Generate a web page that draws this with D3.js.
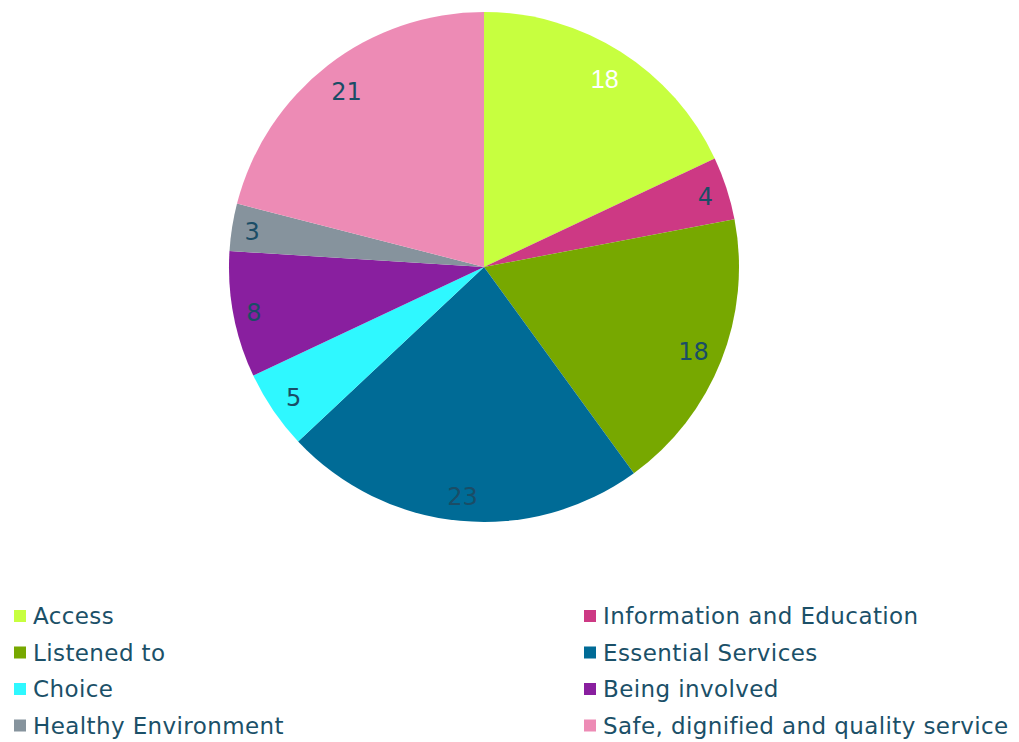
<!DOCTYPE html>
<html>
<head>
<meta charset="utf-8">
<script src="https://cdn.jsdelivr.net/npm/d3@7"></script>
<style>
  html, body { margin: 0; padding: 0; background: #ffffff; }
  svg { display: block; }
</style>
</head>
<body>
<svg id="chart" width="1019" height="742"></svg>
<script>
// Categories, values and colours of the pie
const categories = [
  "Access",
  "Information and Education",
  "Listened to",
  "Essential Services",
  "Choice",
  "Being involved",
  "Healthy Environment",
  "Safe, dignified and quality service"
];
const values = [18, 4, 18, 23, 5, 8, 3, 21];
const colors = ["#c7ff3f", "#cd3984", "#77a800", "#006b96", "#2ff8ff", "#891f9f", "#86939d", "#ed8bb5"];

const svg = d3.select("#chart");
const cx = 484, cy = 267, radius = 255;
const textColor = "#1b5068";
const labelDark = "#1a4d66";

const data = categories.map((c, i) => ({ name: c, value: values[i], color: colors[i] }));

const pie = d3.pie().value(d => d.value).sort(null);
const arc = d3.arc().innerRadius(0).outerRadius(radius);

const g = svg.append("g").attr("transform", `translate(${cx},${cy})`);
const arcs = pie(data);

g.selectAll("path.slice")
  .data(arcs)
  .join("path")
  .attr("class", "slice")
  .attr("d", arc)
  .attr("fill", d => d.data.color);

// Value labels sit at the inside end of each slice: the label box is pushed
// outwards until its far corner reaches a fixed inset from the rim.
const labels = g.selectAll("text.value")
  .data(arcs)
  .join("text")
  .attr("class", "value")
  .attr("text-anchor", "middle")
  .attr("dominant-baseline", "central")
  .attr("font-family", d => d.index === 0 ? "Liberation Sans, Arial, sans-serif" : "DejaVu Sans, sans-serif")
  .attr("font-size", d => d.index === 0 ? 25 : 24)
  .attr("fill", d => d.index === 0 ? "#ffffff" : labelDark)
  .text(d => d.data.value);

const rimInset = 9, boxPad = 2, boxH = 30;
labels.each(function(d) {
  const w = this.getComputedTextLength() + boxPad;
  const a = (d.startAngle + d.endAngle) / 2;
  const ux = Math.sin(a), uy = -Math.cos(a);
  const target = radius - rimInset;
  let lo = 0, hi = radius;
  for (let k = 0; k < 40; k++) {
    const m = (lo + hi) / 2;
    const fx = m * ux + Math.sign(ux) * w / 2;
    const fy = m * uy + Math.sign(uy) * boxH / 2;
    if (Math.hypot(fx, fy) > target) hi = m; else lo = m;
  }
  d3.select(this).attr("transform", `translate(${lo * ux},${lo * uy + 2})`);
});

// Legend: two columns, four rows
const legendCols = [14, 584];
const legendRow0 = 616, legendRowStep = 36.5;
const legend = svg.append("g").attr("class", "legend");
const items = legend.selectAll("g.item")
  .data(data)
  .join("g")
  .attr("class", "item")
  .attr("transform", (d, i) => `translate(${legendCols[i % 2]},${legendRow0 + Math.floor(i / 2) * legendRowStep})`);

items.append("rect")
  .attr("x", 0).attr("y", -6)
  .attr("width", 12).attr("height", 12)
  .attr("fill", d => d.color);

items.append("text")
  .attr("x", 19)
  .attr("y", 0)
  .attr("dominant-baseline", "central")
  .attr("font-family", "DejaVu Sans, sans-serif")
  .attr("font-size", 23)
  .attr("letter-spacing", 0.4)
  .attr("fill", textColor)
  .text(d => d.name);
</script>
</body>
</html>
